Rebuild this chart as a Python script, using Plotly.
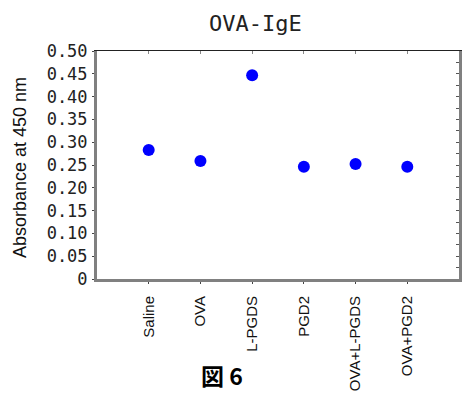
import plotly.graph_objects as go

categories = ["Saline", "OVA", "L-PGDS", "PGD2", "OVA+L-PGDS", "OVA+PGD2"]
values = [0.283, 0.259, 0.447, 0.246, 0.252, 0.246]
ytick_vals = [0, 0.05, 0.10, 0.15, 0.20, 0.25, 0.30, 0.35, 0.40, 0.45, 0.50]
ytick_text = ["0", "0.05", "0.10", "0.15", "0.20", "0.25", "0.30", "0.35", "0.40", "0.45", "0.50"]
x_positions = list(range(1, len(categories) + 1))

fig = go.Figure()
fig.add_trace(go.Scatter(
    x=x_positions, y=values, mode="markers",
    marker=dict(color="#0000FF", size=12, line=dict(width=0)),
    showlegend=False,
))
# invisible trace to activate secondary axes
fig.add_trace(go.Scatter(x=[0], y=[0], xaxis="x2", yaxis="y2", mode="markers",
                         marker=dict(opacity=0), showlegend=False, hoverinfo="skip"))

fig.update_layout(
    width=464, height=394,
    margin=dict(l=97, r=5, t=51, b=115, autoexpand=False),
    paper_bgcolor="white", plot_bgcolor="white",
    xaxis=dict(
        range=[0, 7], tickvals=x_positions, ticktext=categories, tickangle=-90,
        showgrid=False, zeroline=False, showline=True, linecolor="#808080", linewidth=3,
        ticks="outside", ticklen=2, tickcolor="#444", tickwidth=1,
        tickfont=dict(family="Liberation Sans", size=15, color="#111"),
        ticklabelstandoff=6, automargin=False,
    ),
    yaxis=dict(
        range=[0, 0.5], tickvals=ytick_vals, ticktext=ytick_text,
        showgrid=False, zeroline=False, showline=True, linecolor="#808080", linewidth=3,
        ticks="outside", ticklen=2, tickcolor="#444", tickwidth=1,
        tickfont=dict(family="DejaVu Sans Mono", size=17, color="#222"),
        ticklabelstandoff=1, automargin=False,
    ),
    xaxis2=dict(
        overlaying="x", side="top", range=[0, 7], tickvals=x_positions,
        showticklabels=False, showgrid=False, zeroline=False, showline=True,
        linecolor="#222", linewidth=1, ticks="inside", ticklen=3, tickcolor="#888",
        automargin=False,
    ),
    yaxis2=dict(
        overlaying="y", side="right", range=[0, 0.5], dtick=0.025, tick0=0,
        showticklabels=False, showgrid=False, zeroline=False, showline=True,
        linecolor="#808080", linewidth=3, ticks="inside", ticklen=3, tickcolor="#555",
        automargin=False,
    ),
    annotations=[
        dict(text="OVA-IgE", xref="paper", yref="paper", x=(255 - 97) / 362, y=1 + (51 - 24) / 228,
             xanchor="center", yanchor="middle", showarrow=False,
             font=dict(family="DejaVu Sans Mono", size=22, color="#222")),
        dict(text="Absorbance at 450 nm", xref="paper", yref="paper", x=(20 - 97) / 362, y=(279 - 168) / 228,
             xanchor="center", yanchor="middle", textangle=-90, showarrow=False,
             font=dict(family="Liberation Sans", size=18, color="#111")),
        dict(text="<b>図 6</b>", xref="paper", yref="paper", x=(222 - 97) / 362, y=(279 - 375) / 228,
             xanchor="center", yanchor="middle", showarrow=False,
             font=dict(family="Noto Sans CJK JP", size=23, color="#000")),
    ],
)

fig.write_html("out.html")
